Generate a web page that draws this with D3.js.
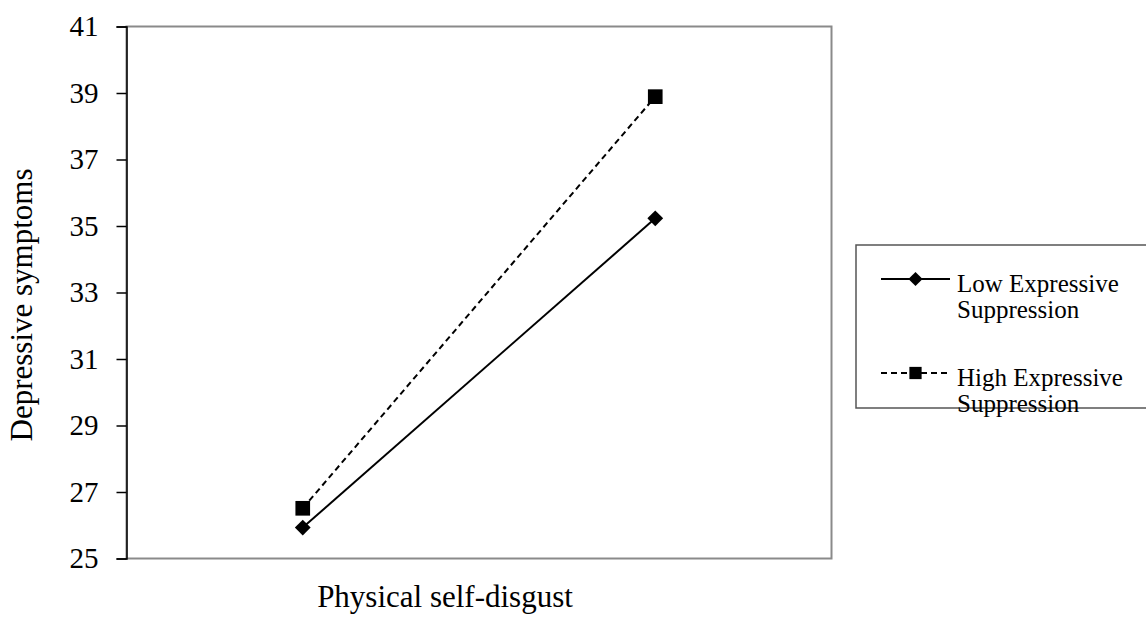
<html>
  <head>
    <style>
      body { margin: 0; background: #fff; }
      text { font-family: "Liberation Serif", "Times New Roman", serif; fill: #000; }
    </style>
  </head>
  <body>
    <script src="https://d3js.org/d3.v7.min.js"></script>
    <script>
    //dimensions specs
    var width = 1146, height = 619;
    var margin = {top: 26.5, right: 314, bottom: 60.5, left: 126.5};

    //chart data
    var levels = ["Low", "High"];            // physical self-disgust (-1 SD / +1 SD)
    var lowSuppression = [25.93, 35.23];
    var highSuppression = [26.51, 38.89];
    var yTicks = [25, 27, 29, 31, 33, 35, 37, 39, 41];
    var seriesNames = [["Low Expressive", "Suppression"], ["High Expressive", "Suppression"]];

    var svg = d3.select("body")
        .append("svg")
        .attr("width", width)
        .attr("height", height);

    var x = d3.scalePoint()
        .domain(levels)
        .range([margin.left, 831.5])
        .padding(0.5);

    var y = d3.scaleLinear()
        .domain([25, 41])
        .range([558.5, margin.top]);

    //plot frame (gray)
    svg.append("rect")
        .attr("x", x.range()[0])
        .attr("y", y(41))
        .attr("width", x.range()[1] - x.range()[0])
        .attr("height", y(25) - y(41))
        .attr("fill", "none")
        .attr("stroke", "#8a8a8a")
        .attr("stroke-width", 2);

    //y axis
    var yAxis = svg.append("g")
        .attr("transform", "translate(" + x.range()[0] + ",0)")
        .call(d3.axisLeft(y).tickValues(yTicks).tickSize(10).tickPadding(18));
    yAxis.select(".domain").attr("stroke", "#000").attr("stroke-width", 1.5);
    yAxis.selectAll(".tick line").attr("stroke", "#000").attr("stroke-width", 1.5);
    yAxis.selectAll(".tick text")
        .attr("font-size", 29)
        .attr("fill", "#000");

    //axis titles
    svg.append("text")
        .attr("transform", "translate(32,305) rotate(-90)")
        .attr("text-anchor", "middle")
        .attr("font-size", 31)
        .text("Depressive symptoms");

    svg.append("text")
        .attr("x", 445)
        .attr("y", 607)
        .attr("text-anchor", "middle")
        .attr("font-size", 31)
        .text("Physical self-disgust");

    var line = d3.line()
        .x(function(d, i) { return x(levels[i]); })
        .y(function(d) { return y(d); });

    //low suppression: solid + diamonds
    svg.append("path")
        .datum(lowSuppression)
        .attr("d", line)
        .attr("fill", "none")
        .attr("stroke", "#000")
        .attr("stroke-width", 2);

    var diamond = d3.symbol().type(d3.symbolSquare).size(125);
    svg.selectAll(".lowpt")
        .data(lowSuppression)
        .enter().append("path")
        .attr("class", "lowpt")
        .attr("d", diamond)
        .attr("transform", function(d, i) { return "translate(" + x(levels[i]) + "," + y(d) + ") rotate(45)"; })
        .attr("fill", "#000");

    //high suppression: dashed + squares
    svg.append("path")
        .datum(highSuppression)
        .attr("d", line)
        .attr("fill", "none")
        .attr("stroke", "#000")
        .attr("stroke-width", 2)
        .attr("stroke-dasharray", "6,4");

    var square = d3.symbol().type(d3.symbolSquare).size(215);
    svg.selectAll(".highpt")
        .data(highSuppression)
        .enter().append("path")
        .attr("class", "highpt")
        .attr("d", square)
        .attr("transform", function(d, i) { return "translate(" + x(levels[i]) + "," + y(d) + ")"; })
        .attr("fill", "#000");

    //legend
    var legend = svg.append("g");
    legend.append("rect")
        .attr("x", 856)
        .attr("y", 245)
        .attr("width", 300)
        .attr("height", 163)
        .attr("fill", "#fff")
        .attr("stroke", "#555")
        .attr("stroke-width", 1.5);

    var legDiamond = d3.symbol().type(d3.symbolSquare).size(100);
    var legSquare = d3.symbol().type(d3.symbolSquare).size(150);
    var legY = [279, 373];
    seriesNames.forEach(function(name, i) {
      var g = legend.append("g");
      g.append("line")
          .attr("x1", 881).attr("x2", 950)
          .attr("y1", legY[i]).attr("y2", legY[i])
          .attr("stroke", "#000")
          .attr("stroke-width", 2)
          .attr("stroke-dasharray", i == 1 ? "6,4" : null);
      g.append("path")
          .attr("d", i == 0 ? legDiamond : legSquare)
          .attr("transform", "translate(915.5," + legY[i] + ")" + (i == 0 ? " rotate(45)" : ""))
          .attr("fill", "#000");
      g.append("text")
          .attr("x", 957)
          .attr("y", legY[i] + 13)
          .attr("font-size", 25)
          .text(name[0]);
      g.append("text")
          .attr("x", 957)
          .attr("y", legY[i] + 39)
          .attr("font-size", 25)
          .text(name[1]);
    });
    </script>
  </body>
</html>
